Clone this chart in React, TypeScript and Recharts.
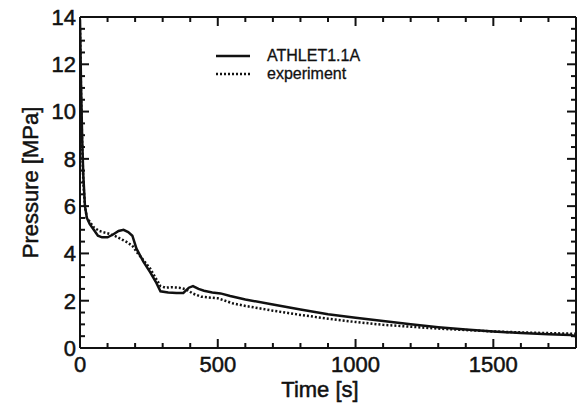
import React from "react";
import { Legend, Line, LineChart, XAxis, YAxis } from "recharts";

const athletTime = [0, 4, 8, 12, 18, 25, 35, 50, 65, 80, 100, 120, 140, 158, 175, 190, 205, 230, 255, 275, 292, 320, 350, 375, 395, 410, 430, 450, 480, 510, 545, 600, 700, 800, 900, 1000, 1100, 1200, 1300, 1400, 1500, 1600, 1700, 1780, 1800];
const athletPressure = [13.9, 11.0, 8.8, 7.3, 6.0, 5.5, 5.25, 5.0, 4.75, 4.68, 4.68, 4.8, 4.95, 5.0, 4.9, 4.75, 4.2, 3.65, 3.2, 2.8, 2.4, 2.35, 2.33, 2.33, 2.55, 2.62, 2.5, 2.42, 2.35, 2.31, 2.2, 2.05, 1.84, 1.63, 1.43, 1.28, 1.14, 1.0, 0.88, 0.78, 0.7, 0.63, 0.58, 0.55, 0.5];

const expTime = [0, 4, 8, 12, 18, 25, 35, 50, 70, 90, 110, 130, 150, 170, 190, 210, 230, 255, 275, 292, 310, 330, 360, 385, 410, 440, 500, 557, 600, 700, 800, 900, 1000, 1100, 1200, 1300, 1400, 1500, 1600, 1700, 1800];
const expPressure = [13.5, 10.5, 8.5, 7.0, 6.0, 5.5, 5.35, 5.1, 4.95, 4.88, 4.82, 4.72, 4.6, 4.48, 4.32, 4.0, 3.72, 3.35, 2.95, 2.62, 2.55, 2.57, 2.55, 2.48, 2.3, 2.17, 2.1, 1.88, 1.78, 1.58, 1.4, 1.24, 1.1, 0.98, 0.9, 0.82, 0.76, 0.7, 0.66, 0.63, 0.6];

const timeTicks = Array.from({ length: 19 }, (_, i) => i * 100);
const timeLabels = [0, 500, 1000, 1500];
const pressureTicks = Array.from({ length: 29 }, (_, i) => i * 0.5);
const pressureLabels = [0, 2, 4, 6, 8, 10, 12, 14];

const athletData = athletTime.map((t, i) => ({ t, p: athletPressure[i] }));
const expData = expTime.map((t, i) => ({ t, p: expPressure[i] }));

const FONT = "'Liberation Sans', Arial, Helvetica, sans-serif";
const INK = "#111";

function tickLen(major: boolean) {
  return major ? 9 : 5;
}

function BottomTick({ x, y, payload }: any) {
  const major = timeLabels.includes(payload.value);
  return (
    <g>
      <line x1={x} x2={x} y1={y} y2={y - tickLen(major)} stroke={INK} strokeWidth={2} />
      {major && (
        <text x={x} y={y + 8} dy="0.71em" textAnchor="middle" fontSize={22} fontFamily={FONT} fill={INK} stroke={INK} strokeWidth={0.5}>
          {payload.value}
        </text>
      )}
    </g>
  );
}

function TopTick({ x, y, payload }: any) {
  const major = timeLabels.includes(payload.value);
  return <line x1={x} x2={x} y1={y} y2={y + tickLen(major)} stroke={INK} strokeWidth={2} />;
}

function LeftTick({ x, y, payload }: any) {
  const major = pressureLabels.includes(payload.value);
  return (
    <g>
      <line x1={x} x2={x + tickLen(major)} y1={y} y2={y} stroke={INK} strokeWidth={2} />
      {major && (
        <text x={x - 4} y={y} dy="0.36em" textAnchor="end" fontSize={22} fontFamily={FONT} fill={INK} stroke={INK} strokeWidth={0.5}>
          {payload.value}
        </text>
      )}
    </g>
  );
}

function RightTick({ x, y, payload }: any) {
  const major = pressureLabels.includes(payload.value);
  return <line x1={x} x2={x - tickLen(major)} y1={y} y2={y} stroke={INK} strokeWidth={2} />;
}

function LegendBox() {
  const rows = [
    { label: "ATHLET1.1A", dash: undefined },
    { label: "experiment", dash: "2 2" },
  ];
  return (
    <div style={{ fontFamily: FONT, fontSize: 16, color: INK, WebkitTextStroke: "0.3px #111" }}>
      {rows.map((r) => (
        <div key={r.label} style={{ display: "flex", alignItems: "center", height: 18 }}>
          <svg width={34} height={18}>
            <line x1={0} x2={34} y1={9} y2={9} stroke={INK} strokeWidth={2.5} strokeDasharray={r.dash} />
          </svg>
          <span style={{ marginLeft: 17, lineHeight: "18px" }}>{r.label}</span>
        </div>
      ))}
    </div>
  );
}

export default function App() {
  return (
    <div style={{ position: "absolute", left: 0, top: 0, width: 577, height: 403, background: "#fff" }}>
      <LineChart width={577} height={403} margin={{ top: 16, right: 0, bottom: 0, left: 0 }}>
        <XAxis
          xAxisId="main"
          dataKey="t"
          type="number"
          domain={[0, 1800]}
          ticks={timeTicks}
          interval={0}
          height={55}
          tickSize={0}
          tickMargin={0}
          tickLine={false}
          tick={<BottomTick />}
          axisLine={{ stroke: INK, strokeWidth: 2 }}
          allowDataOverflow
          label={{ value: "Time [s]", position: "center", dx: -8, dy: 14, fontSize: 22, fontFamily: FONT, fill: INK, stroke: INK, strokeWidth: 0.5 }}
        />
        <XAxis
          xAxisId="top"
          orientation="top"
          dataKey="t"
          type="number"
          domain={[0, 1800]}
          ticks={timeTicks}
          interval={0}
          height={1}
          tickSize={0}
          tickMargin={0}
          tickLine={false}
          tick={<TopTick />}
          axisLine={{ stroke: INK, strokeWidth: 2 }}
          allowDataOverflow
        />
        <YAxis
          yAxisId="main"
          type="number"
          domain={[0, 14]}
          ticks={pressureTicks}
          interval={0}
          width={80}
          tickSize={0}
          tickMargin={0}
          tickLine={false}
          tick={<LeftTick />}
          axisLine={{ stroke: INK, strokeWidth: 2 }}
          allowDataOverflow
          label={{ value: "Pressure [MPa]", angle: -90, position: "center", dx: -10, fontSize: 22, fontFamily: FONT, fill: INK, stroke: INK, strokeWidth: 0.5 }}
        />
        <YAxis
          yAxisId="right"
          orientation="right"
          type="number"
          domain={[0, 14]}
          ticks={pressureTicks}
          interval={0}
          width={1}
          tickSize={0}
          tickMargin={0}
          tickLine={false}
          tick={<RightTick />}
          axisLine={{ stroke: INK, strokeWidth: 2 }}
          allowDataOverflow
        />
        <Legend
          layout="vertical"
          align="center"
          verticalAlign="middle"
          content={() => <LegendBox />}
          wrapperStyle={{ position: "absolute", left: 216, top: 47, width: "auto" }}
        />
        <Line
          xAxisId="main"
          yAxisId="main"
          data={athletData}
          dataKey="p"
          name="ATHLET1.1A"
          type="linear"
          stroke={INK}
          strokeWidth={2.5}
          dot={false}
          isAnimationActive={false}
        />
        <Line
          xAxisId="main"
          yAxisId="main"
          data={expData}
          dataKey="p"
          name="experiment"
          type="linear"
          stroke={INK}
          strokeWidth={2.5}
          strokeDasharray="2 2"
          dot={false}
          isAnimationActive={false}
        />
        <Line
          xAxisId="top"
          yAxisId="right"
          data={expData}
          dataKey="p"
          legendType="none"
          stroke="none"
          dot={false}
          activeDot={false}
          isAnimationActive={false}
        />
      </LineChart>
    </div>
  );
}
